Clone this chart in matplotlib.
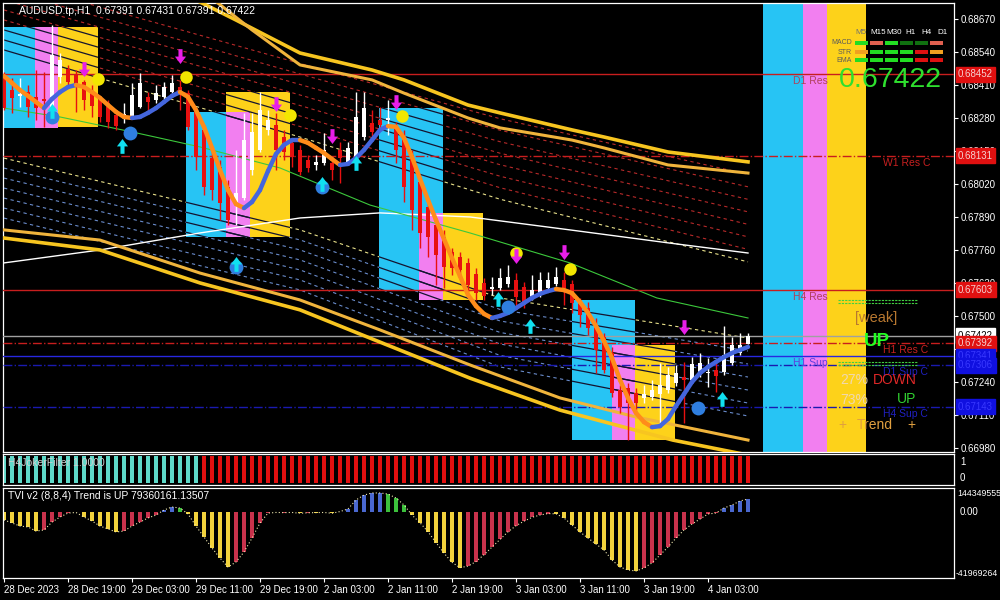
import numpy as np
import matplotlib
matplotlib.use("Agg")
import matplotlib.pyplot as plt
from matplotlib.patches import Rectangle
from matplotlib.collections import LineCollection
from matplotlib.lines import Line2D

plt.rcParams['font.family'] = ['Liberation Sans', 'DejaVu Sans']

# ---------------- data: AUDUSD H1, first bar 28 Dec 2023 11:00 ----------------
opens = [0.68449, 0.68390, 0.68367, 0.68382, 0.68363, 0.68355, 0.68284, 0.68441, 0.68473, 0.68449,
         0.68422, 0.68378, 0.68351, 0.68323, 0.68292, 0.68284, 0.68284, 0.68323, 0.68363, 0.68351,
         0.68363, 0.68382, 0.68402, 0.68378, 0.68304, 0.68233, 0.68122, 0.68087, 0.68008, 0.67937,
         0.67965, 0.68075, 0.68154, 0.68233, 0.68252, 0.68205, 0.68182, 0.68154, 0.68115, 0.68095,
         0.68103, 0.68103, 0.68154, 0.68107, 0.68122, 0.68205, 0.68260, 0.68272, 0.68272, 0.68241,
         0.68205, 0.68134, 0.68028, 0.67929, 0.67858, 0.67811, 0.67752, 0.67732, 0.67709, 0.67665,
         0.67630, 0.67606, 0.67610, 0.67626, 0.67642, 0.67614, 0.67575, 0.67587, 0.67610, 0.67626,
         0.67642, 0.67626, 0.67551, 0.67531, 0.67464, 0.67417, 0.67354, 0.67208, 0.67216, 0.67196,
         0.67177, 0.67181, 0.67192, 0.67208, 0.67236, 0.67259, 0.67248, 0.67279, 0.67275, 0.67287,
         0.67279, 0.67315, 0.67354, 0.67391]
highs = [0.68461, 0.68438, 0.68438, 0.68410, 0.68469, 0.68461, 0.68646, 0.68536, 0.68489, 0.68469,
         0.68430, 0.68410, 0.68363, 0.68351, 0.68311, 0.68339, 0.68418, 0.68457, 0.68382, 0.68410,
         0.68422, 0.68449, 0.68430, 0.68390, 0.68319, 0.68252, 0.68154, 0.68115, 0.68036, 0.68154,
         0.68300, 0.68300, 0.68382, 0.68311, 0.68300, 0.68233, 0.68201, 0.68174, 0.68134, 0.68134,
         0.68221, 0.68115, 0.68185, 0.68185, 0.68382, 0.68382, 0.68311, 0.68323, 0.68351, 0.68264,
         0.68233, 0.68154, 0.68044, 0.67957, 0.67878, 0.67839, 0.67768, 0.67752, 0.67728, 0.67689,
         0.67650, 0.67654, 0.67689, 0.67701, 0.67669, 0.67634, 0.67661, 0.67673, 0.67673, 0.67693,
         0.67673, 0.67642, 0.67571, 0.67555, 0.67492, 0.67433, 0.67378, 0.67228, 0.67236, 0.67216,
         0.67228, 0.67248, 0.67315, 0.67299, 0.67307, 0.67319, 0.67338, 0.67354, 0.67334, 0.67319,
         0.67460, 0.67417, 0.67433, 0.67431]
lows = [0.68311, 0.68300, 0.68323, 0.68284, 0.68272, 0.68245, 0.68272, 0.68418, 0.68402, 0.68304,
        0.68311, 0.68284, 0.68264, 0.68241, 0.68233, 0.68260, 0.68280, 0.68319, 0.68304, 0.68339,
        0.68355, 0.68378, 0.68311, 0.68233, 0.68075, 0.67977, 0.67957, 0.67878, 0.67858, 0.67858,
        0.67957, 0.68055, 0.68146, 0.68213, 0.68075, 0.68115, 0.68087, 0.68055, 0.68067, 0.68075,
        0.68095, 0.68036, 0.68024, 0.68099, 0.68115, 0.68193, 0.68193, 0.68233, 0.68213, 0.68103,
        0.67949, 0.67839, 0.67768, 0.67732, 0.67622, 0.67610, 0.67661, 0.67650, 0.67594, 0.67563,
        0.67563, 0.67583, 0.67602, 0.67614, 0.67535, 0.67531, 0.67563, 0.67575, 0.67602, 0.67618,
        0.67543, 0.67512, 0.67457, 0.67425, 0.67275, 0.67275, 0.67181, 0.67118, 0.67011, 0.67130,
        0.67157, 0.67169, 0.67062, 0.67196, 0.67224, 0.67078, 0.67236, 0.67259, 0.67220, 0.67200,
        0.67267, 0.67307, 0.67346, 0.67391]
closes = [0.68319, 0.68359, 0.68375, 0.68323, 0.68319, 0.68347, 0.68528, 0.68509, 0.68422, 0.68410,
          0.68351, 0.68327, 0.68284, 0.68264, 0.68248, 0.68296, 0.68371, 0.68418, 0.68343, 0.68378,
          0.68402, 0.68418, 0.68382, 0.68245, 0.68126, 0.68008, 0.67996, 0.67945, 0.67878, 0.67984,
          0.68193, 0.68225, 0.68311, 0.68272, 0.68154, 0.68146, 0.68126, 0.68067, 0.68083, 0.68107,
          0.68154, 0.68075, 0.68122, 0.68162, 0.68284, 0.68319, 0.68225, 0.68252, 0.68280, 0.68154,
          0.68008, 0.67918, 0.67827, 0.67811, 0.67740, 0.67693, 0.67689, 0.67681, 0.67622, 0.67590,
          0.67579, 0.67614, 0.67650, 0.67654, 0.67575, 0.67551, 0.67602, 0.67642, 0.67642, 0.67654,
          0.67610, 0.67551, 0.67504, 0.67453, 0.67366, 0.67287, 0.67196, 0.67141, 0.67157, 0.67157,
          0.67192, 0.67208, 0.67228, 0.67267, 0.67275, 0.67248, 0.67311, 0.67315, 0.67279, 0.67263,
          0.67346, 0.67386, 0.67386, 0.67422]

# smoothed trend line (orange falling / blue rising)
hma = [0.68445, 0.68418, 0.68390, 0.68367, 0.68343, 0.68319, 0.68355, 0.68382, 0.68402, 0.68410,
       0.68402, 0.68382, 0.68359, 0.68331, 0.68304, 0.68284, 0.68280, 0.68284, 0.68300, 0.68319,
       0.68343, 0.68367, 0.68382, 0.68363, 0.68311, 0.68245, 0.68162, 0.68075, 0.67996, 0.67941,
       0.67925, 0.67949, 0.67996, 0.68071, 0.68138, 0.68174, 0.68193, 0.68193, 0.68182, 0.68162,
       0.68142, 0.68118, 0.68095, 0.68099, 0.68122, 0.68154, 0.68193, 0.68233, 0.68248, 0.68245,
       0.68201, 0.68126, 0.68040, 0.67957, 0.67878, 0.67803, 0.67728, 0.67657, 0.67583, 0.67539,
       0.67508, 0.67492, 0.67500, 0.67512, 0.67531, 0.67551, 0.67571, 0.67587, 0.67598, 0.67606,
       0.67602, 0.67590, 0.67555, 0.67512, 0.67460, 0.67401, 0.67334, 0.67248, 0.67177, 0.67118,
       0.67082, 0.67062, 0.67066, 0.67094, 0.67145, 0.67192, 0.67240, 0.67275, 0.67299, 0.67319,
       0.67338, 0.67354, 0.67366, 0.67378]

# moving averages (knots)
white_bars = [0, 12, 24.5, 37, 47, 58.25, 70.75, 83.25, 93]
white_ma = [0.67709, 0.67760, 0.67827, 0.67886, 0.67906, 0.67890, 0.67839, 0.67787, 0.67748]
green_bars = [0, 7, 16, 24.5, 34.5, 45.75, 58.25, 70.75, 81.6, 93]
green_ma = [0.68319, 0.68284, 0.68225, 0.68166, 0.68083, 0.67937, 0.67827, 0.67709, 0.67571, 0.67492]

# thick envelope bands
up_out_bars = [22, 29, 37, 46, 50, 58, 62, 71, 75, 83, 93]
up_out = [0.68776, 0.68666, 0.68536, 0.68469, 0.68430, 0.68331, 0.68300, 0.68233, 0.68205, 0.68146, 0.68107]
up_in_bars = [25, 31, 37, 46, 50, 58, 62, 71, 75, 83, 93]
up_in = [0.68776, 0.68627, 0.68489, 0.68430, 0.68378, 0.68280, 0.68241, 0.68193, 0.68162, 0.68095, 0.68063]
lo_out_bars = [0, 12, 24.5, 37, 47, 58.25, 69.5, 79, 93]
lo_out = [0.67839, 0.67799, 0.67669, 0.67563, 0.67445, 0.67307, 0.67177, 0.67102, 0.67011]
lo_in_bars = [0, 12, 24.5, 37, 47, 58.25, 69.5, 83.6, 93]
lo_in = [0.67807, 0.67760, 0.67630, 0.67524, 0.67397, 0.67255, 0.67129, 0.67011, 0.66952]

# channel levels (dashed fans)
ch_bars = [0, 37, 62, 93]
ch_upper = [0.68548, 0.68205, 0.67960, 0.67713]
ch_upper_step = [0.000394, 0.000414, 0.000453, 0.000493]
ch_lower = [0.68122, 0.67839, 0.67571, 0.67413]
ch_lower_step = [0.000394, 0.000394, 0.000453, 0.000512]
n_red, n_blue = 7, 6

# supply/demand zones
zone_color = ['c', 'm', 'y', 'c', 'y', 'm', 'c', 'y', 'm', 'c', 'y', 'm']
zone_x0 = [-0.5, 3.875, 6.75, 22.8, 27.8, 27.8, 46.9, 54.9, 51.9, 71.0, 78.9, 76.0]
zone_x1 = [3.875, 6.75, 11.75, 27.8, 35.75, 30.8, 54.9, 59.9, 54.9, 78.9, 83.9, 78.9]
zone_top = [0.68638, 0.68638, 0.68638, 0.68305, 0.68382, 0.68305, 0.68319, 0.67906, 0.67906, 0.67563, 0.67386, 0.67386]
zone_bot = [0.68241, 0.68241, 0.68245, 0.67811, 0.67811, 0.67811, 0.67602, 0.67563, 0.67563, 0.67011, 0.67011, 0.67011]

# signal markers (bar, price)
sell_arrows = [(10, 0.68469), (22, 0.68520), (34, 0.68331), (41, 0.68205), (49, 0.68339),
               (64, 0.67732), (70, 0.67748), (85, 0.67453)]
yellow_dots = [(11.75, 0.68434), (22.75, 0.68441), (35.75, 0.68292), (49.75, 0.68288),
               (64, 0.67748), (70.75, 0.67685)]
blue_dots = [(6, 0.68284), (15.75, 0.68221), (29, 0.67693), (39.75, 0.68008), (63, 0.67535), (86.75, 0.67137)]
buy_arrows = [(6, 0.68311), (14.75, 0.68174), (29, 0.67709), (39.75, 0.68024), (44, 0.68107),
              (61.75, 0.67571), (65.75, 0.67464), (89.75, 0.67177)]

# pivot levels
lvl_price = [0.68452, 0.68131, 0.67603, 0.67392, 0.67341, 0.67306, 0.67143]
lvl_name = ['D1 Res', 'W1 Res C', 'H4 Res', 'H1 Res C', 'H1 Sup', 'D1 Sup C', 'H4 Sup C']
lvl_color = ['#c81e1e', '#c81e1e', '#c81e1e', '#c81e1e', '#2828e0', '#1a1ab0', '#1a1ab0']
lvl_style = ['-', '-.', '-', '-.', '-', '-.', '-.']
lvl_text_color = ['#b0405a', '#c82020', '#b0405a', '#c82020', '#6040e0', '#2020c0', '#2020c0']
lvl_text_x = [793, 883, 793, 883, 793, 883, 883]
last_price = 0.67422

# H4JokerFilter
joker = [1.0] * 94
joker_up_bars = 25

# TVI histogram (millions)
tvi = [-5.2, -7.2, -9.2, -9.8, -12.5, -11.8, -6.6, -3.3, -0.7, -0.3,
       -3.3, -5.9, -9.2, -11.1, -13.1, -12.5, -9.2, -6.6, -3.9, -2.0,
       1.3, 3.3, 2.6, -1.3, -9.2, -16.4, -23.6, -30.2, -36.1, -32.8,
       -26.2, -17.1, -7.2, -0.7, -0.3, -0.4, -0.3, -0.8, -0.5, -0.4,
       -0.3, -0.8, 0.3, 2.0, 7.9, 11.1, 12.5, 12.5, 11.8, 9.2,
       4.6, -2.0, -7.0, -13.0, -20.0, -27.0, -33.0, -36.5, -35.5, -32.5,
       -28.0, -23.0, -18.0, -13.0, -9.0, -6.0, -3.5, -2.0, -1.0, -1.2,
       -3.9, -8.5, -13.1, -17.1, -21.0, -24.9, -31.5, -36.1, -38.0, -38.7,
       -36.7, -33.4, -28.2, -23.0, -17.1, -11.8, -7.9, -4.6, -1.3, -0.7,
       2.6, 4.6, 7.2, 8.5]
tvi_col = ("YYYYY" "RRRR" "YYYYYY" "RRRRR" "BB" "G" "YYYYYY" "RRRRR" "YRYYRYRY" "BBBBBB" "GGG"
           "YYYYYYY" "RRRRRRRRRRR" "YYYYYYYYYYY" "RRRRRRRRRR" "BBBB")

price_ticks = [0.68670, 0.68540, 0.68410, 0.68280, 0.68150, 0.68020, 0.67890,
               0.67760, 0.67630, 0.67500, 0.67370, 0.67240, 0.67110, 0.66980]
time_ticks = [0, 8, 16, 24, 32, 40, 48, 56, 64, 72, 80, 88]
time_labels = ['28 Dec 2023', '28 Dec 19:00', '29 Dec 03:00', '29 Dec 11:00', '29 Dec 19:00',
               '2 Jan 03:00', '2 Jan 11:00', '2 Jan 19:00', '3 Jan 03:00', '3 Jan 11:00',
               '3 Jan 19:00', '4 Jan 03:00']

# ---------------- figure ----------------
W, H = 1000, 600
FS = 7
fig = plt.figure(figsize=(10, 6), dpi=100, facecolor='black')


def fx(x):
    return x / W


def fy(y):
    return 1 - y / H


ax = fig.add_axes([fx(3), fy(452), 951 / W, 449 / H])
s1 = fig.add_axes([fx(3), fy(485), 951 / W, 31 / H])
s2 = fig.add_axes([fx(3), fy(578), 951 / W, 90 / H])
XL = (-0.125, 118.75)
for a in (ax, s1, s2):
    a.set_facecolor('black')
    a.set_xlim(*XL)
    for sp in a.spines.values():
        sp.set_color('white')
        sp.set_linewidth(0.9)
    a.tick_params(colors='white', labelsize=FS)
ax.set_ylim(0.66964, 0.68733)
ax.set_xticks([])
ax.yaxis.tick_right()
ax.set_yticks(price_ticks)
ax.set_yticklabels(['%.5f' % p for p in price_ticks])
ax.tick_params(axis='y', length=3, pad=2)

COL = {'c': '#27c4f4', 'm': '#f27ff0', 'y': '#fdd21a'}
bars = np.arange(len(closes))

# right side colour bands
ax.axvspan(94.875, 99.875, color=COL['c'], zorder=2, lw=0)
ax.axvspan(99.875, 102.875, color=COL['m'], zorder=2, lw=0)
ax.axvspan(102.875, 107.75, color=COL['y'], zorder=2, lw=0)

# zones
zone_patches = []
for c, x0, x1, t, b in zip(zone_color, zone_x0, zone_x1, zone_top, zone_bot):
    r = Rectangle((x0, b), x1 - x0, t - b, facecolor=COL[c], edgecolor='none', zorder=2)
    ax.add_patch(r)
    zone_patches.append(r)

# channel lines
ch_u = np.array(ch_upper)
ch_us = np.array(ch_upper_step)
ch_l = np.array(ch_lower)
ch_ls = np.array(ch_lower_step)
chan = [(ch_u, '#e8e08a')] + [(ch_u + k * ch_us, '#b82a2a') for k in range(1, n_red + 1)]
chan += [(ch_l, '#e8e08a')] + [(ch_l - k * ch_ls, '#6a8ccc') for k in range(1, n_blue + 1)]
for vals, c in chan:
    ax.plot(ch_bars, vals, color=c, lw=0.8, ls=(0, (3, 3)), zorder=1)
    for r in zone_patches:
        ln, = ax.plot(ch_bars, vals, color='#141430', lw=0.9, zorder=2.2)
        ln.set_clip_path(r)

# MAs
ax.plot(white_bars, white_ma, color='white', lw=1.0, zorder=2.5)
ax.plot(green_bars, green_ma, color='#3cc83c', lw=0.8, zorder=2.5)

# pivot level lines
for p, c, ls in zip(lvl_price, lvl_color, lvl_style):
    ax.axhline(p, color=c, lw=1.0, ls=ls, zorder=2.6)
ax.axhline(last_price, color='#a0a0a0', lw=1.0, zorder=2.6)

# thick bands
ax.plot(up_out_bars, up_out, color='#f7c520', lw=2.6, zorder=3)
ax.plot(up_in_bars, up_in, color='#f0b43c', lw=2.2, zorder=3)
ax.plot(lo_out_bars, lo_out, color='#f0b43c', lw=2.2, zorder=3)
ax.plot(lo_in_bars, lo_in, color='#f7c520', lw=2.6, zorder=3)

# candles
o = np.array(opens)
c_ = np.array(closes)
bull = c_ >= o
ccol = np.where(bull, 'white', '#e81010')
ax.vlines(bars, lows, highs, colors=ccol, lw=1.0, zorder=4)
body = np.maximum(np.abs(c_ - o), 0.00004)
ax.bar(bars, body, bottom=np.minimum(o, c_), width=0.62, color=ccol, zorder=4.1, lw=0)

# trend line
hv = np.array(hma)
segs = [[(i, hv[i]), (i + 1, hv[i + 1])] for i in range(len(hv) - 1)]
scol = ['#ff8c1a' if hv[i + 1] < hv[i] else '#4466dd' for i in range(len(hv) - 1)]
ax.add_collection(LineCollection(segs, colors=scol, linewidths=3.2, capstyle='round', zorder=5))

# markers
down_arrow = [(-0.22, 0.9), (0.22, 0.9), (0.22, 0.1), (0.6, 0.1), (0, -0.7), (-0.6, 0.1), (-0.22, 0.1), (-0.22, 0.9)]
up_arrow = [(x, -y) for x, y in down_arrow]
ax.plot(*zip(*yellow_dots), 'o', ms=9, color='#f2e600', mec='none', zorder=6)
ax.plot(*zip(*sell_arrows), ls='none', marker=down_arrow, ms=12, color='#e81ee8', mec='none', zorder=6.1)
ax.plot(*zip(*blue_dots), 'o', ms=10, color='#2f7fe0', mec='none', zorder=6)
ax.plot(*zip(*buy_arrows), ls='none', marker=up_arrow, ms=12, color='#10e0f0', mec='none', zorder=6.1)

# level labels and price tags
for p, n, tc, lx in zip(lvl_price, lvl_name, lvl_text_color, lvl_text_x):
    ax.annotate(n, xy=(lx, p), xycoords=('figure pixels', 'data'), xytext=(0, -1.5),
                textcoords='offset points', va='top', ha='left', fontsize=FS + 0.5, color=tc,
                annotation_clip=False, zorder=7)
tag_price = [0.68452, 0.68131, 0.67603, 0.67422, 0.67392, 0.67341, 0.67306, 0.67143]
tag_bg = ['#e01010', '#e01010', '#e01010', 'white', '#e01010', '#1010e0', '#1010e0', '#1010e0']
tag_fg = ['#f4d0d0', '#f4d0d0', '#f4d0d0', 'black', '#f4d0d0', '#3838ff', '#3838ff', '#3838ff']
for p, bg, fg in zip(tag_price, tag_bg, tag_fg):
    ax.annotate('%.5f' % p, xy=(958, p), xycoords=('figure pixels', 'data'), va='center', ha='left',
                fontsize=FS, color=fg, annotation_clip=False, zorder=20,
                bbox=dict(boxstyle='square,pad=0.25', fc=bg, ec=bg))

# title
fig.text(fx(19), fy(11), 'AUDUSD.tp,H1  0.67391 0.67431 0.67391 0.67422', color='white',
         fontsize=FS + 0.5, va='center', ha='left')

# signal table
hdr = ['M5', 'M15', 'M30', 'H1', 'H4', 'D1']
hdr_x = [855, 870, 886, 905, 921, 937]
for h, x in zip(hdr, hdr_x):
    fig.text(fx(x), fy(33), h, color='#707070' if h == 'M5' else 'white', fontsize=5.8, va='center')
for lab, y in zip(['MACD', 'STR', 'EMA'], [43, 52, 60]):
    fig.text(fx(852), fy(y), lab, color='#5a5a5a', fontsize=5, va='center', ha='right')
cell_x = [855, 870, 885, 900, 915, 930]
cell_rows = [['#22dd22', '#e06050', '#22dd22', '#107010', '#107010', '#e06050'],
             ['#f0a020', '#22dd22', '#22dd22', '#22dd22', '#dd1111', '#f0a020'],
             ['#22dd22', '#22dd22', '#22dd22', '#22dd22', '#dd1111', '#dd1111']]
for y, row in zip([43, 52, 60], cell_rows):
    for x, c in zip(cell_x, row):
        fig.add_artist(Rectangle((fx(x), fy(y + 2)), 13 / W, 4 / H, transform=fig.transFigure,
                                 facecolor=c, edgecolor='none'))
fig.text(fx(839), fy(80), '0.67422', color='#2ee02e', fontsize=20.5, va='center', ha='left')

# trend panel text
for y in (300, 303, 362, 365):
    fig.add_artist(Line2D([fx(838), fx(917)], [fy(y), fy(y)], transform=fig.transFigure,
                          color='#40d040', lw=0.8, ls=(0, (2, 1))))
fig.text(fx(855), fy(318), '[weak]', color='#b87830', fontsize=10.5, va='center')
fig.text(fx(864), fy(342), 'UP', color='#22ff22', fontsize=13.5, fontweight='bold', va='center')
fig.text(fx(840), fy(380), '27%', color='#f0d8b0', fontsize=10, va='center')
fig.text(fx(873), fy(380), 'DOWN', color='#e02828', fontsize=10, va='center')
fig.text(fx(840), fy(400), '73%', color='#f0d8b0', fontsize=10, va='center')
fig.text(fx(897), fy(399), 'UP', color='#30d030', fontsize=10, va='center')
fig.text(fx(838), fy(425), '+', color='#e0a040', fontsize=10, va='center')
fig.text(fx(857), fy(425), 'Trend', color='#e0a040', fontsize=10, va='center')
fig.text(fx(907), fy(425), '+', color='#e0a040', fontsize=10, va='center')

# H4JokerFilter panel
jcol = ['#5ed8c8' if i < joker_up_bars else '#e01010' for i in range(len(joker))]
s1.bar(bars, joker, width=0.6, color=jcol, lw=0)
s1.set_ylim(-0.06, 1.06)
s1.set_xticks([])
s1.set_yticks([])
fig.text(fx(8), fy(463), 'H4JokerFilter 1.0000', color='#d0d0d0', fontsize=FS + 0.5, va='center')
fig.text(fx(960), fy(462), '1', color='white', fontsize=FS, va='center')
fig.text(fx(960), fy(478), '0', color='white', fontsize=FS, va='center')

# TVI panel
TCOL = {'Y': '#f2d23c', 'R': '#c8324c', 'B': '#4a68d0', 'G': '#3cc03c'}
tv = np.array(tvi) * 1e6
s2.bar(bars, tv, width=0.4, color=[TCOL[k] for k in tvi_col], lw=0)
s2.plot(bars, tv, color='#f0e8b0', lw=0.8, ls=(0, (1, 2)))
s2.set_ylim(-43280990, 15746681)
s2.set_yticks([])
s2.set_xticks(time_ticks)
s2.set_xticklabels(time_labels)
s2.tick_params(axis='x', length=3, pad=2, labelsize=FS)
for t in s2.get_xticklabels():
    t.set_ha('left')
fig.text(fx(8), fy(496), 'TVI v2 (8,8,4) Trend is UP 79360161.13507', color='white', fontsize=FS + 0.5, va='center')
fig.text(fx(957), fy(494), '144349555', color='white', fontsize=6.3, va='center')
fig.text(fx(960), fy(512), '0.00', color='white', fontsize=FS, va='center')
fig.text(fx(956), fy(573), '-41969264', color='white', fontsize=6.3, va='center')

fig.savefig('out.png', dpi=100, facecolor='black')
